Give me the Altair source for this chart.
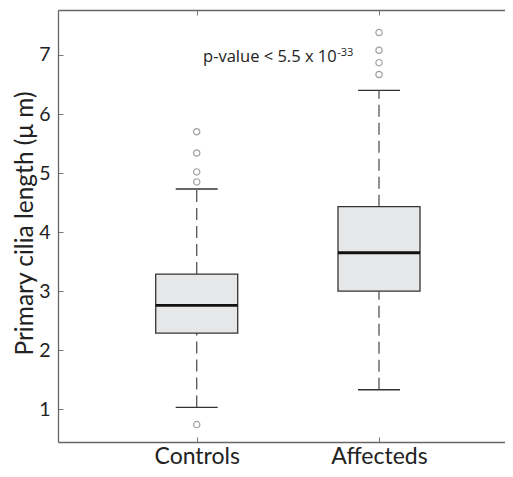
import altair as alt
import pandas as pd

# ---- data ----
groups = ["Controls", "Affecteds"]
lower_whisker = [1.03, 1.33]
q1 = [2.29, 3.00]
median = [2.76, 3.65]
q3 = [3.29, 4.43]
upper_whisker = [4.73, 6.40]
outliers_controls = [5.70, 5.34, 5.02, 4.85, 0.74]
outliers_affecteds = [7.38, 7.08, 6.87, 6.67]
y_ticks = [1, 2, 3, 4, 5, 6, 7]
y_domain = [0.445, 7.762]
annotation_main = "p-value < 5.5 x 10"
annotation_sup = "-33"
annotation_group = "Controls"
annotation_y = 6.88
annotation_sup_y = 6.975

FONT = "Lato"
NOTE_FONT = "Open Sans"

stats = pd.DataFrame({
    "group": groups,
    "lower": lower_whisker,
    "q1": q1,
    "median": median,
    "q3": q3,
    "upper": upper_whisker,
})
whiskers = pd.DataFrame({
    "group": groups + groups,
    "start": lower_whisker + q3,
    "end": q1 + upper_whisker,
})
caps = pd.DataFrame({
    "group": groups + groups,
    "value": lower_whisker + upper_whisker,
})
outliers = pd.DataFrame({
    "group": ["Controls"] * len(outliers_controls) + ["Affecteds"] * len(outliers_affecteds),
    "value": outliers_controls + outliers_affecteds,
})
notes = pd.DataFrame({
    "group": [annotation_group],
    "main": [annotation_main],
    "sup": [annotation_sup],
    "y": [annotation_y],
    "ysup": [annotation_sup_y],
})

xscale = alt.Scale(type="point", domain=groups, padding=0.726, align=0.524)
yscale = alt.Scale(domain=y_domain, nice=False, zero=False)

axis_common = dict(
    domainColor="#666666", domainWidth=1.3, tickColor="#777777", tickWidth=1,
    labelFont=FONT, labelColor="#222222", grid=False, titleFont=FONT,
    titleColor="#222222", titleFontWeight="normal",
)

x_bottom = alt.X("group:N", scale=xscale, title=None, axis=alt.Axis(
    orient="bottom", tickSize={"expr": "-5"}, labelPadding=26.5, labelFontSize=23,
    labelBaseline="alphabetic", labelAngle=0, **axis_common))
y_left = alt.Y("q1:Q", scale=yscale, title="Primary cilia length (μ m)", axis=alt.Axis(
    orient="left", values=y_ticks, tickSize={"expr": "-5"}, labelPadding=13,
    labelFontSize=19.5, titleFontSize=24.5, titleX=-25.5, titleY=213,
    titleAlign="center", titleBaseline="alphabetic", titleAngle=270, **axis_common))

x_top = alt.X("group:N", scale=xscale, title=None, axis=alt.Axis(
    orient="top", tickSize={"expr": "-5"}, labels=False, **axis_common))

whisker_layer = alt.Chart(whiskers).mark_rule(
    color="#555555", strokeWidth=1.3, strokeDash=[12, 6]
).encode(x=x_top, y=alt.Y("start:Q", scale=yscale, axis=None), y2="end:Q")

box_layer = alt.Chart(stats).mark_bar(
    size=82, fill="#e6e7e8", stroke="#333333", strokeWidth=1.3
).encode(x=x_bottom, y=y_left, y2="q3:Q")

median_layer = alt.Chart(stats).mark_tick(
    size=82, thickness=2.8, color="#111111", opacity=1
).encode(x=alt.X("group:N", scale=xscale, axis=None),
         y=alt.Y("median:Q", scale=yscale, axis=None))

cap_layer = alt.Chart(caps).mark_tick(
    size=42, thickness=1.3, color="#333333", opacity=1
).encode(x=alt.X("group:N", scale=xscale, axis=None),
         y=alt.Y("value:Q", scale=yscale, axis=None))

outlier_layer = alt.Chart(outliers).mark_point(
    shape="circle", filled=False, size=40, color="#a0a0a0", strokeWidth=1.2, opacity=1
).encode(x=alt.X("group:N", scale=xscale, axis=None),
         y=alt.Y("value:Q", scale=yscale, axis=None))

main_text = alt.Chart(notes).mark_text(
    align="right", baseline="alphabetic", dx=140, font=NOTE_FONT, fontSize=16.5, color="#222222"
).encode(x=alt.X("group:N", scale=xscale, axis=None),
         y=alt.Y("y:Q", scale=yscale, axis=None), text="main:N")

sup_text = alt.Chart(notes).mark_text(
    align="left", baseline="alphabetic", dx=140.5, font=NOTE_FONT, fontSize=11, color="#222222"
).encode(x=alt.X("group:N", scale=xscale, axis=None),
         y=alt.Y("ysup:Q", scale=yscale, axis=None), text="sup:N")

chart = alt.layer(
    whisker_layer, box_layer, median_layer, cap_layer, outlier_layer, main_text, sup_text
).resolve_axis(x="independent", y="independent").properties(
    width=447, height=432,
    autosize=alt.AutoSizeParams(type="none"),
    padding={"left": 50, "top": 2, "right": 0, "bottom": 27},
    background="white",
).configure_view(stroke=None)

chart.save("out.html", embed_options={"renderer": "svg", "actions": False})
